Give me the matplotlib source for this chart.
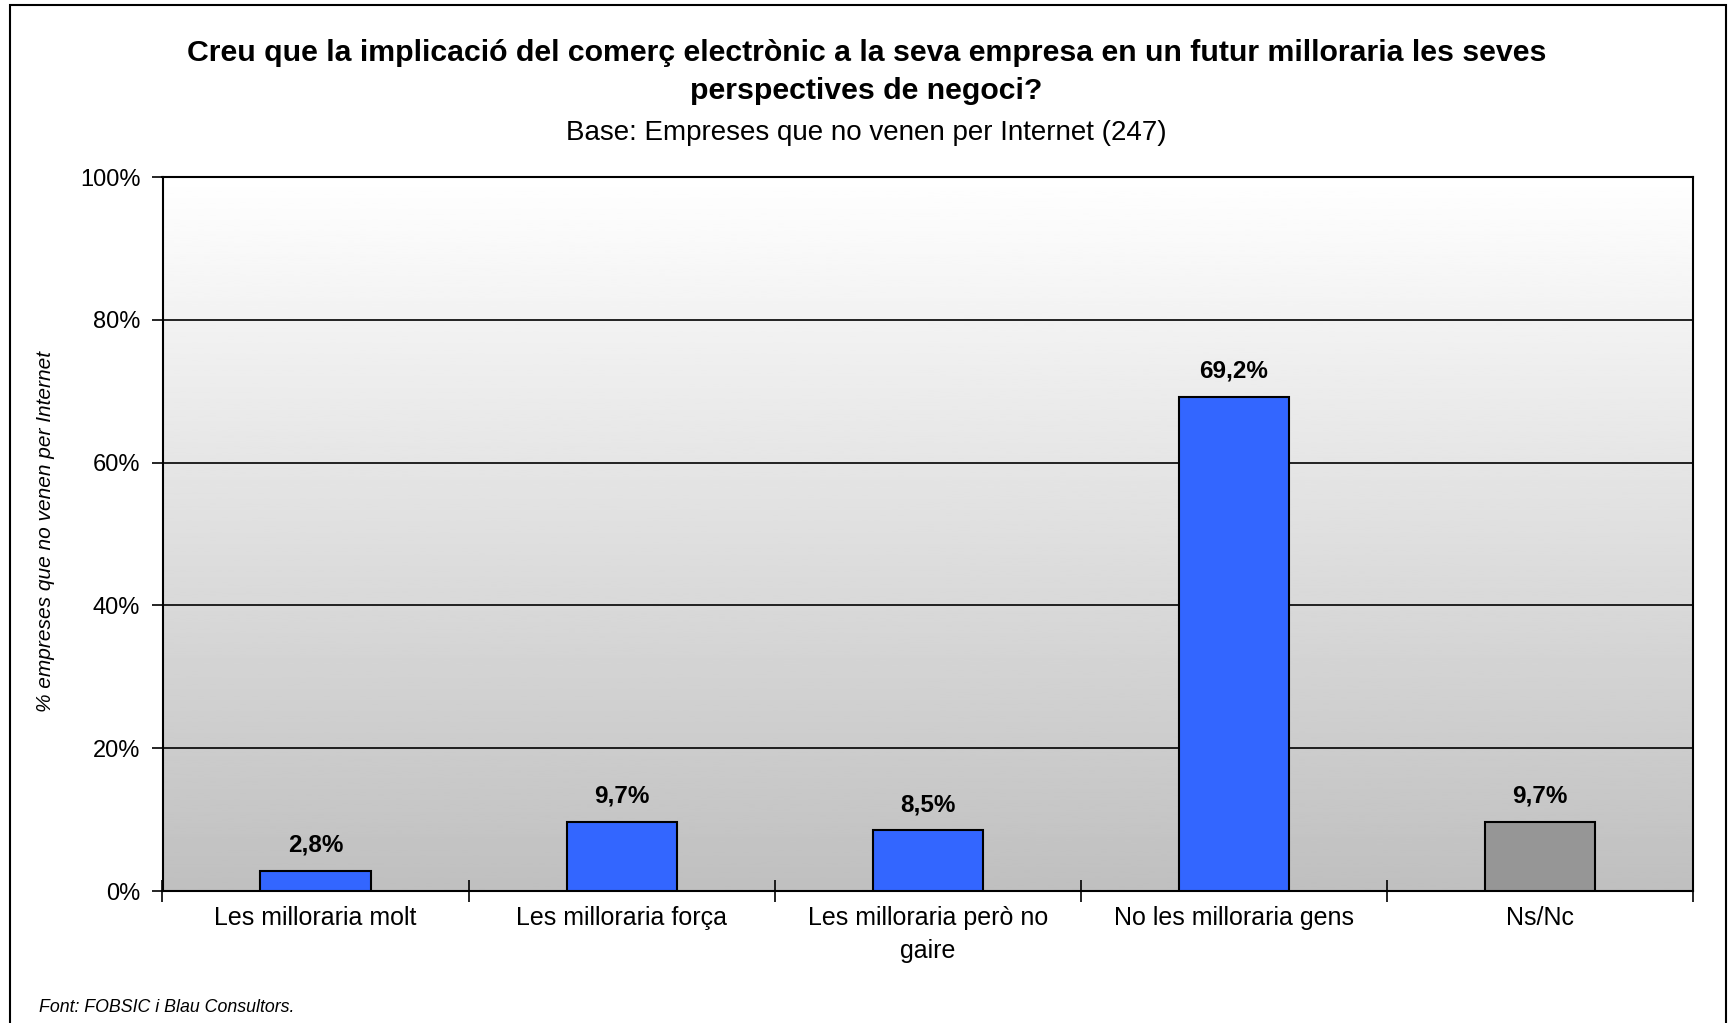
import numpy as np
import matplotlib.pyplot as plt
from matplotlib.patches import Rectangle

plt.rcParams['font.family'] = ['Liberation Sans', 'DejaVu Sans']

categories = ['Les milloraria molt', 'Les milloraria força',
              'Les milloraria però no\ngaire', 'No les milloraria gens', 'Ns/Nc']
values = [2.8, 9.7, 8.5, 69.2, 9.7]
labels = ['2,8%', '9,7%', '8,5%', '69,2%', '9,7%']
colors = ['#3366FF', '#3366FF', '#3366FF', '#3366FF', '#969696']
yticks = [0, 20, 40, 60, 80, 100]

W, H = 1733, 1023
fig = plt.figure(figsize=(W / 100, H / 100), dpi=100)

# plot area in pixels
left, right, top, bottom = 162.5, 1693, 177, 891
ax = fig.add_axes([left / W, 1 - bottom / H, (right - left) / W, (bottom - top) / H])

# gradient background: white at top, grey at bottom
grad = np.linspace(0.75, 1.0, 256).reshape(-1, 1)
ax.imshow(grad, extent=[-0.5, len(values) - 0.5, 0, 100], origin='lower',
          cmap='gray', vmin=0, vmax=1, aspect='auto', zorder=0)

x = np.arange(len(values))
ax.bar(x, values, width=0.36, color=colors, edgecolor='black', linewidth=1.5, zorder=3)
for xi, v, lab in zip(x, values, labels):
    ax.text(xi, v + 2.0, lab, ha='center', va='bottom', fontsize=17.5, fontweight='bold', zorder=4)

ax.set_xlim(-0.5, len(values) - 0.5)
ax.set_ylim(0, 100)
ax.set_yticks(yticks)
ax.set_yticklabels([f'{t}%' for t in yticks], fontsize=17)
ax.yaxis.grid(True, color='black', linewidth=1.2, zorder=1)
ax.set_axisbelow(True)

ax.set_xticks(np.arange(len(values) + 1) - 0.5)
ax.set_xticklabels([])
ax.set_xticks(x, minor=True)
ax.set_xticklabels(categories, minor=True, fontsize=18, linespacing=1.45)
ax.tick_params(axis='x', which='minor', length=0, pad=11)
ax.tick_params(axis='x', which='major', direction='inout', length=16, width=1.2)
ax.tick_params(axis='y', direction='out', length=8, width=1.2, pad=8)
for s in ax.spines.values():
    s.set_linewidth(1.5)

fig.text(46 / W, 1 - 532 / H, '% empreses que no venen per Internet', rotation=90,
         ha='center', va='center', fontsize=15, style='italic')

fig.text(0.5, 1 - 53 / H, 'Creu que la implicació del comerç electrònic a la seva empresa en un futur milloraria les seves',
         ha='center', va='center', fontsize=21.8, fontweight='bold')
fig.text(0.5, 1 - 91 / H, 'perspectives de negoci?',
         ha='center', va='center', fontsize=21.8, fontweight='bold')
fig.text(0.5, 1 - 133 / H, 'Base: Empreses que no venen per Internet (247)',
         ha='center', va='center', fontsize=20)
fig.text(39 / W, 1 - 1007 / H, 'Font: FOBSIC i Blau Consultors.',
         ha='left', va='center', fontsize=12.8, style='italic')

# outer frame
fig.patches.append(Rectangle((10 / W, -0.01), (1726 - 10) / W, 1 - 5 / H + 0.01,
                             transform=fig.transFigure, fill=False,
                             edgecolor='black', linewidth=1.5))

fig.savefig('out.png', dpi=100)
